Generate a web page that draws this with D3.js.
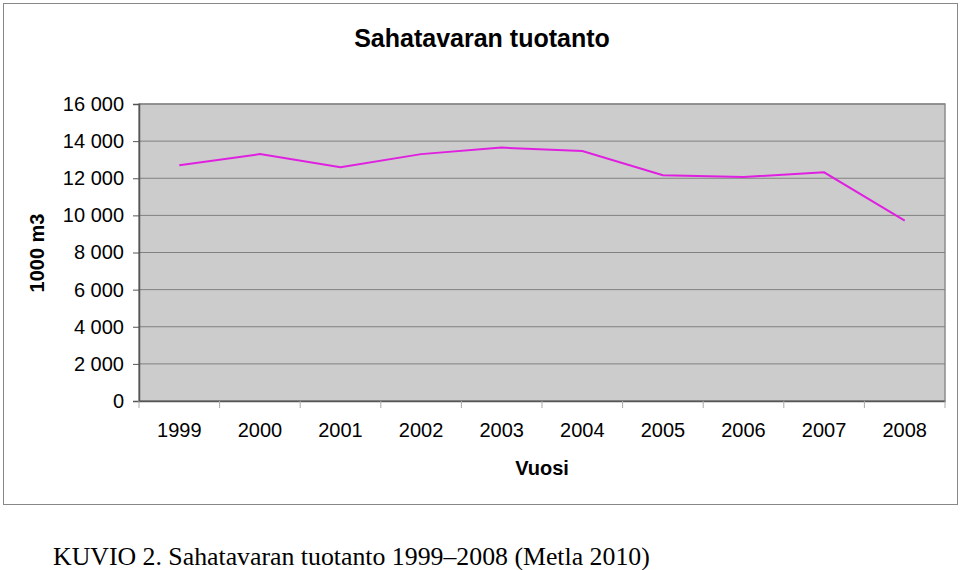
<!DOCTYPE html>
<html>
<head>
<meta charset="utf-8">
<script src="https://cdn.jsdelivr.net/npm/d3@7"></script>
<style>
    body { margin: 0; background: #fff; }
    svg text { font-family: "Liberation Sans", Arial, sans-serif; fill: #000; }
    svg text.caption { font-family: "Liberation Serif", "Times New Roman", serif; }
</style>
</head>
<body>
<div id="chart"></div>
<script>
// data (1000 m3)
var years = ["1999", "2000", "2001", "2002", "2003", "2004", "2005", "2006", "2007", "2008"];
var production = [12700, 13300, 12600, 13300, 13650, 13470, 12160, 12070, 12320, 9720];
var yTicks = [0, 2000, 4000, 6000, 8000, 10000, 12000, 14000, 16000];

var width = 960,
    height = 570;

var plot = {left: 139, right: 945, top: 104, bottom: 401};

var svg = d3.select("#chart").append("svg")
    .attr("width", width)
    .attr("height", height);

// chart frame
svg.append("rect")
    .attr("x", 3.5)
    .attr("y", 3.5)
    .attr("width", 954)
    .attr("height", 501)
    .attr("fill", "#fff")
    .attr("stroke", "#888")
    .attr("stroke-width", 1);

var x = d3.scaleBand()
    .domain(years)
    .range([plot.left, plot.right]);

var y = d3.scaleLinear()
    .domain([0, 16000])
    .range([plot.bottom, plot.top]);

// plot background
svg.append("rect")
    .attr("x", plot.left)
    .attr("y", plot.top)
    .attr("width", plot.right - plot.left)
    .attr("height", plot.bottom - plot.top)
    .attr("fill", "#cccccc")
    .attr("stroke", "#8c8c8c")
    .attr("stroke-width", 1.5);

// gridlines
svg.append("g")
    .selectAll("line")
    .data(yTicks)
    .enter().append("line")
    .attr("x1", plot.left)
    .attr("x2", plot.right)
    .attr("y1", function(d) { return y(d); })
    .attr("y2", function(d) { return y(d); })
    .attr("stroke", "#808080")
    .attr("stroke-width", 1);

var fmt = function(d) {
    return d3.format(",")(d).replace(/,/g, " ");
};

// y axis
var yAxis = svg.append("g")
    .attr("transform", "translate(" + plot.left + ",0)")
    .call(d3.axisLeft(y).tickValues(yTicks).tickFormat(fmt).tickSize(6).tickPadding(9));
yAxis.select(".domain").attr("stroke", "#555").attr("stroke-width", 1.5);
yAxis.selectAll(".tick line").attr("stroke", "#555");
yAxis.selectAll("text")
    .style("font-size", "20px")
    .attr("fill", "#000");

// x axis, ticks on band boundaries
var xAxis = svg.append("g")
    .attr("transform", "translate(0," + plot.bottom + ")")
    .call(d3.axisBottom(x).tickSize(0).tickPadding(22));
xAxis.select(".domain").attr("stroke", "#555").attr("stroke-width", 1.5);
xAxis.selectAll("text")
    .style("font-size", "20px")
    .attr("fill", "#000");

svg.append("g")
    .selectAll("line")
    .data(years.concat(["end"]))
    .enter().append("line")
    .attr("x1", function(d, i) { return plot.left + i * x.bandwidth(); })
    .attr("x2", function(d, i) { return plot.left + i * x.bandwidth(); })
    .attr("y1", plot.bottom)
    .attr("y2", plot.bottom + 7)
    .attr("stroke", "#aaa");

// the line
var line = d3.line()
    .x(function(d, i) { return x(years[i]) + x.bandwidth() / 2; })
    .y(function(d) { return y(d); });

svg.append("path")
    .datum(production)
    .attr("d", line)
    .attr("fill", "none")
    .attr("stroke", "#e020e0")
    .attr("stroke-width", 2);

// titles
svg.append("text")
    .attr("x", 482)
    .attr("y", 47)
    .attr("text-anchor", "middle")
    .style("font-size", "25px")
    .style("font-weight", "bold")
    .text("Sahatavaran tuotanto");

svg.append("text")
    .attr("transform", "translate(44," + 253 + ") rotate(-90)")
    .attr("text-anchor", "middle")
    .style("font-size", "20px")
    .style("font-weight", "bold")
    .text("1000 m3");

svg.append("text")
    .attr("x", 542)
    .attr("y", 475)
    .attr("text-anchor", "middle")
    .style("font-size", "20px")
    .style("font-weight", "bold")
    .text("Vuosi");

svg.append("text")
    .attr("class", "caption")
    .attr("x", 53)
    .attr("y", 565)
    .style("font-size", "25.8px")
    .text("KUVIO 2. Sahatavaran tuotanto 1999\u20132008 (Metla 2010)");
</script>
</body>
</html>
